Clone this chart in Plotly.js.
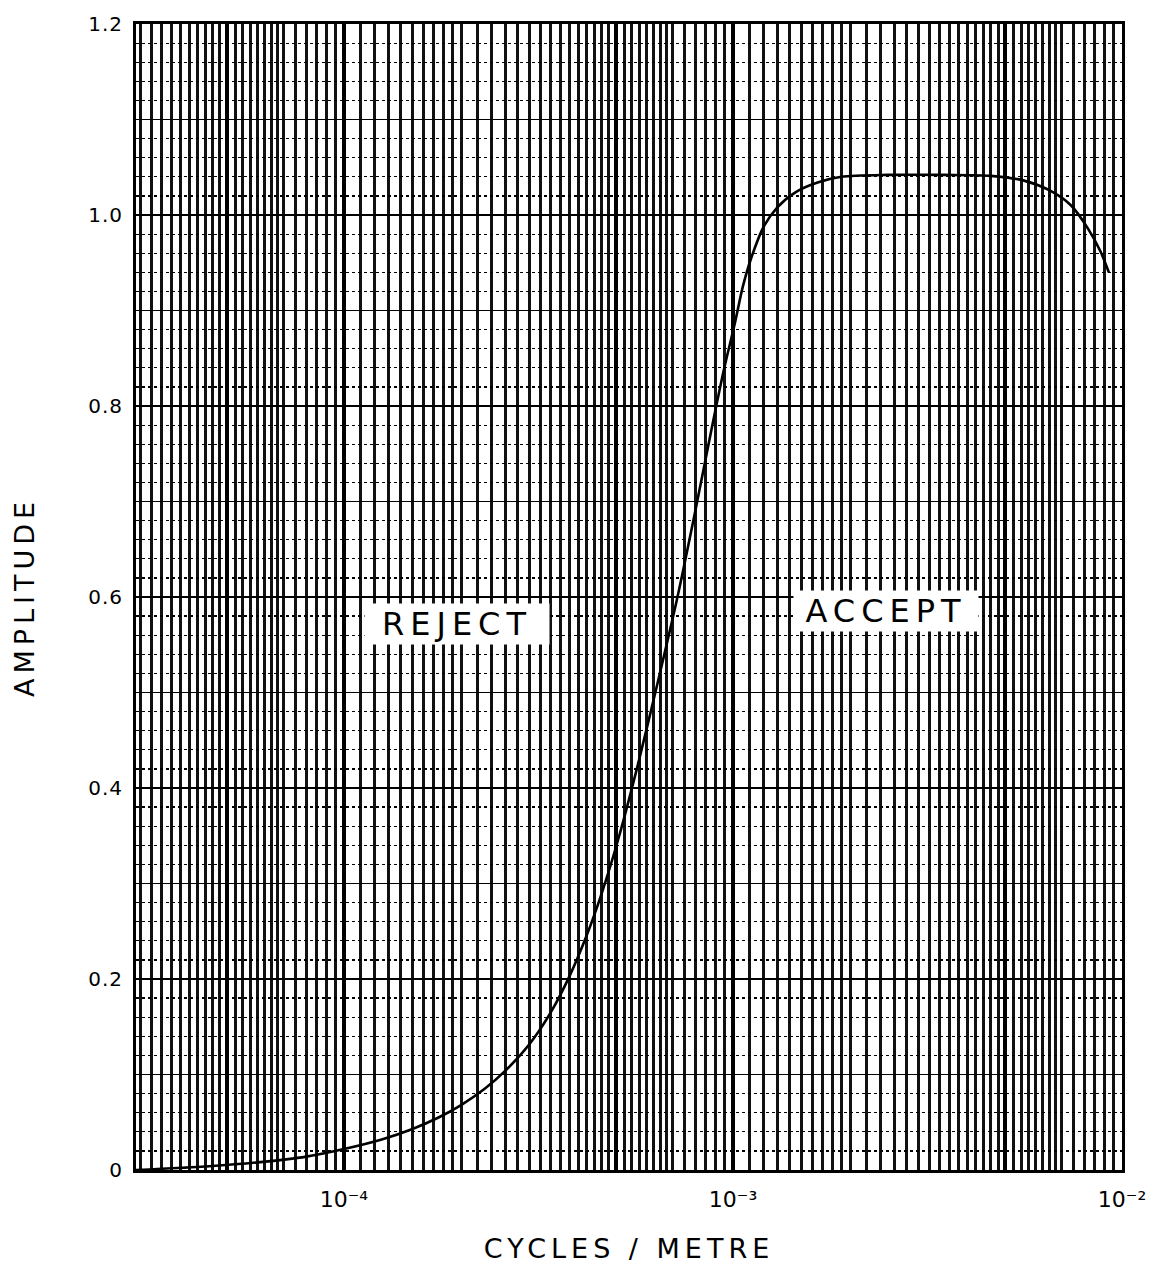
<!DOCTYPE html>
<html>
<head>
<meta charset="utf-8">
<script src="https://cdn.plot.ly/plotly-3.0.1.min.js"></script>
<style>
  html, body { margin: 0; padding: 0; background: #fff; }
  #chart { width: 1154px; height: 1278px; }
  .xtitle, .ytitle { letter-spacing: 5px; }
  .annotation-text { letter-spacing: 6px; }
  .ytick text { letter-spacing: 1px; }
</style>
</head>
<body>
<div id="chart"></div>
<script>
// Spatial frequency (cycles / metre) and filter amplitude
const freq = [2.92e-5, 4.5e-5, 6.0e-5, 8.0e-5, 1.0e-4, 1.25e-4, 1.5e-4, 1.75e-4,
              2.0e-4, 2.3e-4, 2.6e-4, 3.0e-4, 3.4e-4, 3.8e-4, 4.2e-4, 4.6e-4,
              5.1e-4, 5.7e-4, 6.4e-4, 7.2e-4, 8.0e-4, 8.8e-4, 9.5e-4, 1.009e-3,
              1.06e-3, 1.114e-3, 1.2e-3, 1.3e-3, 1.45e-3, 1.65e-3, 1.9e-3, 2.5e-3,
              3.5e-3, 4.6e-3, 5.6e-3, 6.5e-3, 7.4e-3, 8.2e-3, 8.8e-3, 9.25e-3];
const amplitude = [0, 0.004, 0.008, 0.014, 0.022, 0.032, 0.043, 0.055,
                   0.068, 0.085, 0.104, 0.132, 0.165, 0.203, 0.245, 0.29,
                   0.35, 0.425, 0.51, 0.6, 0.69, 0.775, 0.84, 0.885,
                   0.925, 0.955, 0.988, 1.008, 1.024, 1.034, 1.04, 1.042,
                   1.042, 1.041, 1.036, 1.026, 1.01, 0.985, 0.962, 0.94];

// Axis ticks
const xTickVals = [1e-4, 1e-3, 1e-2];
const xTickText = ['10\u207B\u2074', '10\u207B\u00B3', '10\u207B\u00B2'];
const yTickVals = [0, 0.2, 0.4, 0.6, 0.8, 1.0, 1.2];
const yTickText = ['0', '0.2', '0.4', '0.6', '0.8', '1.0', '1.2'];

// Graph-paper rulings
const heavyRulingsX = [5e-5, 5e-4, 5e-3];
const heavyRulingsY = [0.1, 0.3, 0.5, 0.7, 0.9, 1.1];
const paperMantissas = [1.1, 1.2, 1.3, 1.4, 1.5, 1.6, 1.7, 1.8, 1.9, 2.0,
                        2.2, 2.4, 2.6, 2.8, 3.0, 3.2, 3.4, 3.6, 3.8, 4.0,
                        4.2, 4.4, 4.6, 4.8, 5.25, 5.5, 5.75, 6.0, 6.25, 6.5, 6.75, 7.0,
                        7.5, 8.0, 8.5, 9.0, 9.5];
const paperDecades = [1e-5, 1e-4, 1e-3];
const paperLines = [];
paperDecades.forEach(d => paperMantissas.forEach(m => paperLines.push(m * d)));

const xRange = [Math.log10(2.92e-5), -2];
const yRange = [0, 1.2];

const traces = [
  {
    x: freq,
    y: amplitude,
    type: 'scatter',
    mode: 'lines',
    line: { color: '#000', width: 2.6, shape: 'spline', smoothing: 0.8 },
    hoverinfo: 'skip',
    showlegend: false
  },
  { x: [], y: [], xaxis: 'x2', yaxis: 'y2', type: 'scatter', mode: 'lines', showlegend: false, hoverinfo: 'skip' }
];

const font = 'DejaVu Sans, Liberation Sans, sans-serif';

const layout = {
  width: 1154,
  height: 1278,
  margin: { l: 136, r: 32, t: 24, b: 108 },
  paper_bgcolor: '#fff',
  plot_bgcolor: '#fff',
  showlegend: false,
  font: { family: font, color: '#000' },
  xaxis: {
    type: 'log',
    range: xRange,
    tickmode: 'array',
    tickvals: xTickVals,
    ticktext: xTickText,
    ticks: '',
    ticklabelstandoff: 8,
    tickfont: { size: 22, color: '#000', family: font },
    showgrid: true,
    gridcolor: '#000',
    gridwidth: 3.5,
    minor: {
      tickmode: 'array',
      tickvals: paperLines,
      showgrid: true,
      gridcolor: '#111',
      gridwidth: 3,
      ticks: ''
    },
    showline: true,
    linecolor: '#000',
    linewidth: 3,
    mirror: true,
    zeroline: false,
    title: {
      text: 'CYCLES / METRE',
      font: { size: 27, color: '#000', family: font },
      standoff: 28
    },
    automargin: false,
    fixedrange: true
  },
  xaxis2: {
    type: 'log',
    range: xRange,
    overlaying: 'x',
    anchor: 'y',
    tickmode: 'array',
    tickvals: heavyRulingsX,
    showticklabels: false,
    ticks: '',
    showgrid: true,
    gridcolor: '#000',
    gridwidth: 3.5,
    showline: false,
    zeroline: false,
    fixedrange: true
  },
  yaxis: {
    range: yRange,
    tickmode: 'array',
    tickvals: yTickVals,
    ticktext: yTickText,
    ticks: '',
    ticklabelstandoff: 6,
    tickfont: { size: 20, color: '#000', family: font },
    showgrid: true,
    gridcolor: '#000',
    gridwidth: 2,
    minor: {
      dtick: 0.02,
      showgrid: true,
      gridcolor: '#000',
      gridwidth: 1.2,
      griddash: 'dot',
      ticks: ''
    },
    showline: true,
    linecolor: '#000',
    linewidth: 3,
    mirror: true,
    zeroline: false,
    title: {
      text: 'AMPLITUDE',
      font: { size: 27, color: '#000', family: font },
      standoff: 46
    },
    automargin: false,
    fixedrange: true
  },
  yaxis2: {
    range: yRange,
    overlaying: 'y',
    anchor: 'x',
    tickmode: 'array',
    tickvals: heavyRulingsY,
    showticklabels: false,
    ticks: '',
    showgrid: true,
    gridcolor: '#000',
    gridwidth: 1.6,
    showline: false,
    zeroline: false,
    fixedrange: true
  },
  annotations: [
    {
      x: Math.log10(1.95e-4), y: 0.572, xref: 'x', yref: 'y',
      text: 'REJECT', showarrow: false,
      font: { size: 32, color: '#000', family: font },
      bgcolor: '#fff', width: 182, height: 38
    },
    {
      x: Math.log10(2.48e-3), y: 0.585, xref: 'x', yref: 'y',
      text: 'ACCEPT', showarrow: false,
      font: { size: 32, color: '#000', family: font },
      bgcolor: '#fff', width: 182, height: 38
    }
  ]
};

Plotly.newPlot('chart', traces, layout, { displayModeBar: false, staticPlot: true });
</script>
</body>
</html>
